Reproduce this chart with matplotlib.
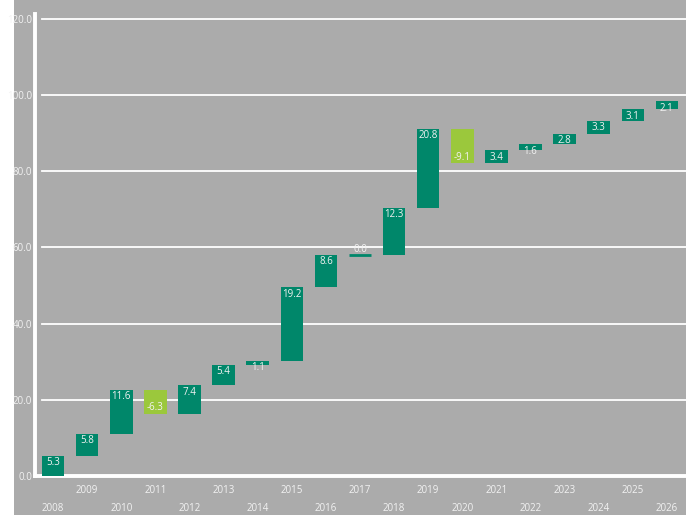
import numpy as np
import matplotlib.pyplot as plt
from matplotlib.patches import Rectangle

# ---------------------------------------------------------
# DATA
# ---------------------------------------------------------

years = list(range(2008, 2027))
changes = [5.3, 5.8, 11.6, -6.3, 7.4, 5.4, 1.1, 19.2, 8.6, 0.0,
           12.3, 20.8, -9.1, 3.4, 1.6, 2.8, 3.3, 3.1, 2.1]
y_ticks = [0, 20, 40, 60, 80, 100, 120]

# ---------------------------------------------------------
# STYLE
# ---------------------------------------------------------

PANEL = "#ABABAB"
UP = "#00876A"
DOWN = "#9BC83C"
LABEL = "#F2F2F2"
LINE = "#FFFFFF"

plt.rcParams["font.family"] = ["Open Sans", "DejaVu Sans"]

fig = plt.figure(figsize=(6.91, 5.15), dpi=100)
fig.patch.set_facecolor("white")
fig.patches.append(Rectangle((14 / 691, 0), 672 / 691, 1,
                             transform=fig.transFigure,
                             facecolor=PANEL, edgecolor="none", zorder=-10))

ax = fig.add_axes([35 / 691, 39 / 515, 651 / 691, 462 / 515])
ax.set_facecolor("none")
ax.set_zorder(1)

# waterfall: each bar runs from the previous running total to the new one
vals = np.array(changes)
ends = np.cumsum(vals)
starts = ends - vals
x = np.arange(len(years))

for xi, s, v, e in zip(x, starts, vals, ends):
    color = UP if v >= 0 else DOWN
    ax.bar(xi, v, bottom=s, width=0.66, color=color,
           edgecolor=color, linewidth=2 if v == 0 else 0, zorder=3)
    # value sits just inside the bar's far end (above it when flat)
    if v == 0:
        dy = 4
    elif v > 0:
        dy = -5
    else:
        dy = 4.5
    ax.annotate(f"{v:.1f}", (xi, e), xytext=(0, dy),
                textcoords="offset points", ha="center", va="center",
                fontsize=7, color=LABEL, zorder=4)

# horizontal guides, starting a little right of the axis line
for t in y_ticks[1:]:
    ax.axhline(t, xmin=0.011, xmax=1, color=LINE, linewidth=1.3, zorder=2)

ax.set_xlim(-0.53, 18.56)
ax.set_ylim(0, 121.3)

ax.set_yticks(y_ticks)
ax.set_yticklabels([f"{t:.1f}" for t in y_ticks])
ax.tick_params(axis="y", length=0, pad=2, labelsize=7, labelcolor=LABEL)

ax.set_xticks([])
for xi, yr in zip(x, years):
    row_y = -0.032 if yr % 2 else -0.071
    ax.text(xi, row_y, str(yr), transform=ax.get_xaxis_transform(),
            ha="center", va="center", fontsize=7, color=LABEL)

for side in ["top", "right"]:
    ax.spines[side].set_visible(False)
for side in ["left", "bottom"]:
    ax.spines[side].set_color(LINE)
    ax.spines[side].set_linewidth(2.8)

fig.savefig("out.png", dpi=100)
